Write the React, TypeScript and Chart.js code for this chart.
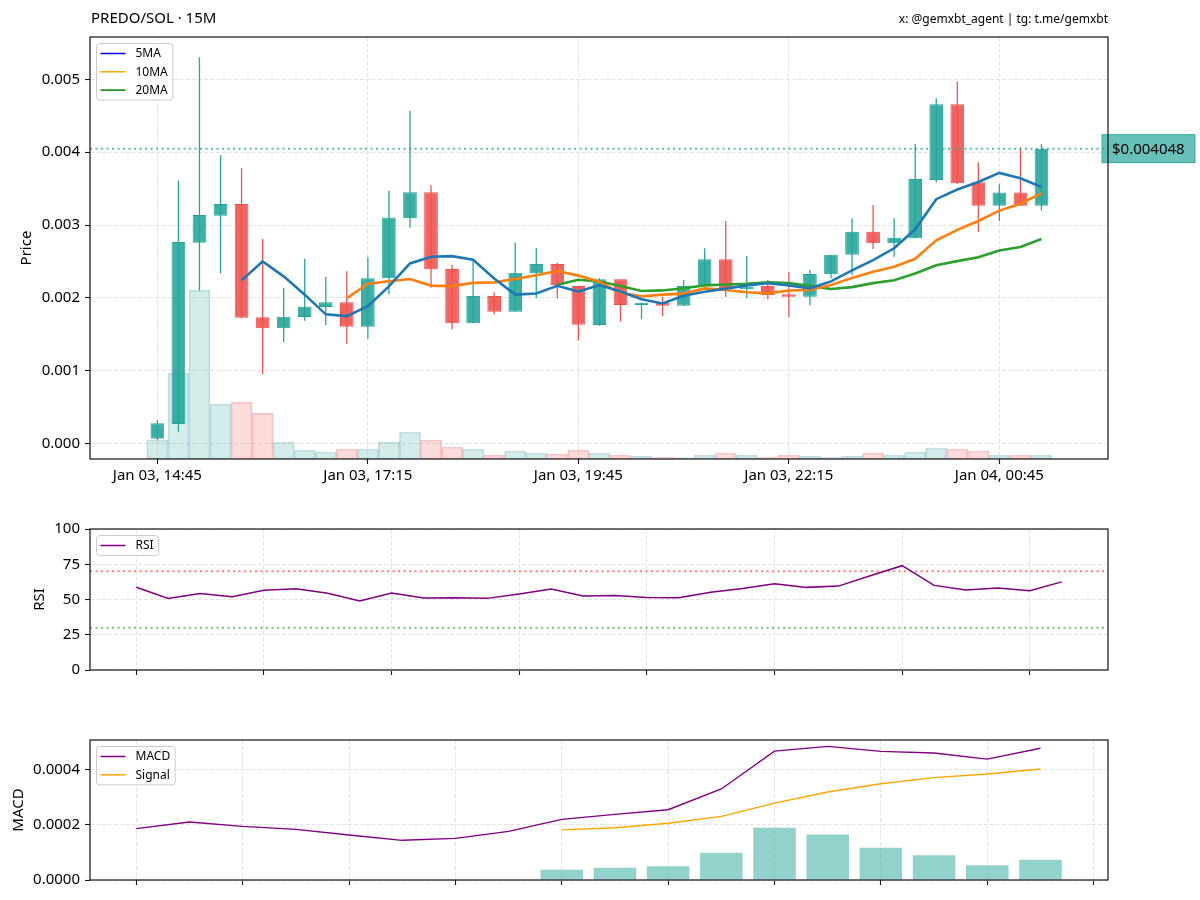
import React, { useEffect, useRef } from 'react';
import { Chart, registerables } from 'chart.js';

Chart.register(...registerables);

const FONT = "'Noto Sans', 'Open Sans', sans-serif";
Chart.defaults.font.family = FONT;
Chart.defaults.color = '#000';

// ---------- text ----------
const PAIR_TITLE = 'PREDO/SOL · 15M';
const CREDIT = 'x: @gemxbt_agent | tg: t.me/gemxbt';
const LAST_PRICE = 0.004048;
const PRICE_UNIT = 0.001; // candle values below are in units of 0.001 SOL

// ---------- price panel (43 candles, 15m) ----------
const candleOpen = [0.069, 0.270, 2.758, 3.129, 3.289, 1.734, 1.583, 1.738, 1.876, 1.940, 1.606, 2.269, 3.092, 3.449, 2.397, 1.651, 2.027, 1.812, 2.338, 2.466, 2.164, 1.629, 2.255, 1.903, 1.935, 1.894, 2.164, 2.530, 2.118, 2.164, 2.049, 2.017, 2.324, 2.594, 2.909, 2.749, 2.818, 3.618, 4.657, 3.586, 3.266, 3.445, 3.266];
const candleClose = [0.279, 2.768, 3.138, 3.289, 1.729, 1.583, 1.743, 1.880, 1.940, 1.606, 2.269, 3.102, 3.449, 2.393, 1.651, 2.027, 1.812, 2.347, 2.466, 2.178, 1.633, 2.255, 1.903, 1.935, 1.894, 2.164, 2.530, 2.118, 2.155, 2.040, 2.017, 2.328, 2.594, 2.909, 2.749, 2.827, 3.632, 4.657, 3.573, 3.266, 3.445, 3.266, 4.048];
const candleHigh = [0.325, 3.609, 5.302, 3.957, 3.779, 2.809, 2.136, 2.539, 2.292, 2.365, 2.557, 3.472, 4.565, 3.545, 2.452, 2.521, 2.077, 2.758, 2.681, 2.484, 2.164, 2.269, 2.255, 1.935, 2.017, 2.246, 2.681, 3.056, 2.575, 2.246, 2.351, 2.383, 2.594, 3.092, 3.275, 3.092, 4.113, 4.739, 4.968, 3.861, 3.559, 4.067, 4.113];
const candleLow = [0.050, 0.165, 2.100, 2.338, 1.720, 0.956, 1.391, 1.688, 1.629, 1.368, 1.441, 2.049, 2.964, 2.141, 1.569, 1.651, 1.775, 1.812, 1.995, 1.995, 1.414, 1.615, 1.674, 1.706, 1.752, 1.889, 2.164, 2.017, 1.995, 1.981, 1.734, 1.898, 2.269, 2.310, 2.672, 2.566, 2.818, 3.582, 3.564, 2.909, 3.056, 3.266, 3.198];
const volume = [1900, 8600, 16900, 5500, 5700, 4600, 1700, 900, 700, 1000, 1000, 1700, 2700, 1900, 1200, 1000, 400, 800, 600, 500, 900, 600, 400, 300, 200, 150, 400, 600, 400, 200, 400, 300, 200, 300, 600, 400, 700, 1100, 1000, 800, 400, 400, 400];
const VOLUME_AXIS_MAX = 42250;

const ma5 = [null, null, null, null, 2.241, 2.501, 2.296, 2.045, 1.775, 1.750, 1.888, 2.159, 2.473, 2.564, 2.573, 2.524, 2.266, 2.046, 2.061, 2.166, 2.087, 2.176, 2.087, 1.981, 1.924, 2.030, 2.085, 2.128, 2.172, 2.201, 2.172, 2.132, 2.227, 2.378, 2.519, 2.681, 2.942, 3.355, 3.488, 3.591, 3.715, 3.641, 3.521];
const ma10 = [null, null, null, null, null, null, null, null, null, 1.996, 2.195, 2.228, 2.259, 2.169, 2.162, 2.206, 2.213, 2.260, 2.312, 2.369, 2.306, 2.221, 2.067, 2.021, 2.045, 2.059, 2.131, 2.108, 2.077, 2.063, 2.101, 2.108, 2.178, 2.275, 2.360, 2.427, 2.537, 2.791, 2.933, 3.055, 3.198, 3.292, 3.438];
const ma20 = [null, null, null, null, null, null, null, null, null, null, null, null, null, null, null, null, null, null, null, 2.182, 2.250, 2.225, 2.163, 2.095, 2.103, 2.132, 2.172, 2.184, 2.194, 2.216, 2.203, 2.165, 2.122, 2.148, 2.203, 2.243, 2.334, 2.449, 2.505, 2.559, 2.650, 2.700, 2.808];

const priceTicks = [0, 0.001, 0.002, 0.003, 0.004, 0.005];
const xTickIndex = [0, 10, 20, 30, 40];
const xTickLabels = ['Jan 03, 14:45', 'Jan 03, 17:15', 'Jan 03, 19:45', 'Jan 03, 22:15', 'Jan 04, 00:45'];

// ---------- RSI panel ----------
const rsiValues = [58.7, 50.8, 54.2, 52.0, 56.5, 57.7, 54.4, 48.9, 54.6, 51.0, 51.3, 50.8, 53.9, 57.4, 52.5, 52.9, 51.4, 51.2, 55.2, 57.8, 61.2, 58.6, 59.5, 66.9, 74.0, 60.0, 56.7, 58.1, 56.2, 62.5];
const rsiTicks = [0, 25, 50, 75, 100];
const rsiTickIndex = [0, 4, 8, 12, 16, 20, 24, 28];
const rsiOverbought = 70;
const rsiOversold = 30;

// ---------- MACD panel ----------
const macdLine = [0.0001855, 0.0002096, 0.000194, 0.000183, 0.0001627, 0.0001434, 0.0001506, 0.0001759, 0.0002193, 0.000237, 0.000254, 0.000329, 0.000466, 0.000483, 0.000465, 0.000459, 0.000437, 0.000476];
const signalLine = [null, null, null, null, null, null, null, null, 0.000181, 0.000189, 0.000205, 0.00023, 0.000278, 0.000318, 0.000348, 0.00037, 0.000383, 0.000401];
const macdHist = [null, null, null, null, null, null, null, null, 0.0000373, 0.0000446, 0.0000494, 0.0000988, 0.000189, 0.000164, 0.000117, 0.0000892, 0.000053, 0.0000735];
const macdTicks = [0, 0.0002, 0.0004];
const macdTickIndex = [0, 2, 4, 6, 8, 10, 12, 14, 16, 18];

// ---------- styling ----------
const UP_FILL = 'rgba(38,166,154,0.9)';
const UP_EDGE = '#26a69a';
const DOWN_FILL = 'rgba(239,83,80,0.9)';
const DOWN_EDGE = '#ef5350';
const GRID = '#e3e3e3';

const fixedTicks = (vals: number[]) => (scale: any) => {
  scale.ticks = vals.map((v) => ({ value: v }));
};

const gridOpts = { color: GRID, lineWidth: 1, tickLength: 5, tickColor: '#1a1a1a', tickWidth: 1.1, drawTicks: true, offset: false };
const borderOpts = { display: false, dash: [4, 2] };

function drawFrame(chart: any) {
  const { ctx, chartArea: a } = chart;
  ctx.save();
  ctx.strokeStyle = '#111';
  ctx.lineWidth = 1.2;
  ctx.strokeRect(a.left, a.top, a.right - a.left, a.bottom - a.top);
  ctx.restore();
}

function drawLegend(chart: any, items: { label: string; color: string }[]) {
  const { ctx, chartArea: a } = chart;
  const fs = 12;
  ctx.save();
  ctx.font = `${fs}px ${FONT}`;
  const textW = Math.max(...items.map((it) => ctx.measureText(it.label).width));
  const x = a.left + 6.5;
  const y = a.top + 6.5;
  const padX = 4, handle = 25, gap = 10, row = 18.3, padY = 10;
  const w = padX + handle + gap + textW + padX + 1;
  const h = padY * 2 + (items.length - 1) * row;
  ctx.beginPath();
  if (ctx.roundRect) ctx.roundRect(x, y, w, h, 3);
  else ctx.rect(x, y, w, h);
  ctx.fillStyle = 'rgba(255,255,255,0.8)';
  ctx.fill();
  ctx.strokeStyle = '#cccccc';
  ctx.lineWidth = 1;
  ctx.stroke();
  items.forEach((it, i) => {
    const cy = y + padY + i * row;
    ctx.beginPath();
    ctx.moveTo(x + padX, cy);
    ctx.lineTo(x + padX + handle, cy);
    ctx.strokeStyle = it.color;
    ctx.lineWidth = 1.5;
    ctx.stroke();
    ctx.fillStyle = '#000';
    ctx.textAlign = 'left';
    ctx.textBaseline = 'middle';
    ctx.fillText(it.label, x + padX + handle + gap, cy + 0.5);
  });
  ctx.restore();
}

function dottedH(chart: any, value: number, color: string, width: number) {
  const { ctx, chartArea: a, scales } = chart;
  const y = scales.y.getPixelForValue(value);
  ctx.save();
  ctx.beginPath();
  ctx.rect(a.left, a.top, a.right - a.left, a.bottom - a.top);
  ctx.clip();
  ctx.setLineDash([2.1, 3.4]);
  ctx.lineWidth = width;
  ctx.strokeStyle = color;
  ctx.beginPath();
  ctx.moveTo(a.left, y);
  ctx.lineTo(a.right, y);
  ctx.stroke();
  ctx.restore();
}

function makePriceChart(canvas: HTMLCanvasElement) {
  const isUp = candleClose.map((c, i) => c >= candleOpen[i]);
  const maLine = (label: string, vals: (number | null)[], color: string) => ({
    type: 'line' as const,
    label,
    data: vals.map((v, i) => ({ x: i, y: v === null ? null : v * PRICE_UNIT })),
    borderColor: color,
    borderWidth: 2.6,
    pointRadius: 0,
    tension: 0,
    fill: false,
    spanGaps: false,
    order: 0,
    yAxisID: 'y',
  });
  const plugin = {
    id: 'priceDecor',
    afterDatasetsDraw(chart: any) {
      dottedH(chart, LAST_PRICE, 'rgba(38,166,154,0.75)', 2);
    },
    afterDraw(chart: any) {
      const { ctx, chartArea: a, scales } = chart;
      drawLegend(chart, [
        { label: '5MA', color: 'blue' },
        { label: '10MA', color: 'orange' },
        { label: '20MA', color: 'green' },
      ]);
      // last price tag
      const y = scales.y.getPixelForValue(LAST_PRICE);
      ctx.save();
      ctx.fillStyle = 'rgba(38,166,154,0.7)';
      ctx.fillRect(a.right - 6, y - 14, 93, 28);
      ctx.strokeStyle = 'rgba(38,166,154,0.9)';
      ctx.lineWidth = 1;
      ctx.strokeRect(a.right - 6, y - 14, 93, 28);
      ctx.fillStyle = '#000';
      ctx.font = `15px ${FONT}`;
      ctx.textAlign = 'left';
      ctx.textBaseline = 'middle';
      ctx.fillText('$' + LAST_PRICE.toFixed(6), a.right + 4, y + 1);
      ctx.restore();
      drawFrame(chart);
      // titles
      ctx.save();
      ctx.fillStyle = '#000';
      ctx.textBaseline = 'alphabetic';
      ctx.font = `15px ${FONT}`;
      ctx.textAlign = 'left';
      ctx.fillText(PAIR_TITLE, a.left + 1, 23);
      ctx.font = `12px ${FONT}`;
      ctx.textAlign = 'right';
      ctx.fillText(CREDIT, a.right, 23);
      ctx.restore();
    },
  };
  return new Chart(canvas, {
    type: 'bar',
    data: {
      datasets: [
        maLine('5MA', ma5, '#1f77b4'),
        maLine('10MA', ma10, '#ff7f0e'),
        maLine('20MA', ma20, '#2ca02c'),
        {
          type: 'bar',
          label: 'body',
          data: candleOpen.map((o, i) => ({ x: i, y: [o * PRICE_UNIT, candleClose[i] * PRICE_UNIT] })),
          backgroundColor: isUp.map((u) => (u ? UP_FILL : DOWN_FILL)),
          borderColor: isUp.map((u) => (u ? UP_EDGE : DOWN_EDGE)),
          borderWidth: 1,
          borderSkipped: false,
          grouped: false,
          barPercentage: 0.65,
          categoryPercentage: 1,
          order: 1,
          yAxisID: 'y',
        },
        {
          type: 'bar',
          label: 'wick',
          data: candleHigh.map((h, i) => ({ x: i, y: [candleLow[i] * PRICE_UNIT, h * PRICE_UNIT] })),
          backgroundColor: isUp.map((u) => (u ? UP_EDGE : DOWN_EDGE)),
          barThickness: 1.3,
          inflateAmount: 0,
          grouped: false,
          order: 2,
          yAxisID: 'y',
        },
        {
          type: 'bar',
          label: 'volume',
          data: volume.map((v, i) => ({ x: i, y: v })),
          backgroundColor: isUp.map((u) => (u ? 'rgba(38,166,154,0.2)' : 'rgba(239,83,80,0.2)')),
          borderColor: isUp.map((u) => (u ? 'rgba(60,140,180,0.28)' : 'rgba(239,83,80,0.3)')),
          borderWidth: 1,
          borderSkipped: false,
          grouped: false,
          barPercentage: 1,
          categoryPercentage: 1,
          order: 3,
          yAxisID: 'yVol',
        },
      ] as any,
    },
    options: {
      animation: false,
      responsive: false,
      maintainAspectRatio: false,
      events: [],
      layout: { padding: { left: 0, right: 92, top: 37, bottom: 0 }, autoPadding: false },
      plugins: { legend: { display: false }, tooltip: { enabled: false } },
      scales: {
        x: {
          type: 'linear',
          min: -3.2,
          max: 45.16,
          offset: false,
          afterBuildTicks: fixedTicks(xTickIndex),
          afterFit: (s: any) => { s.height = 41; },
          ticks: {
            autoSkip: false,
            maxRotation: 0,
            padding: 3,
            color: '#000',
            font: { size: 15 },
            callback: (_v: any, i: number) => xTickLabels[i],
          },
          grid: gridOpts,
          border: borderOpts,
        },
        y: {
          type: 'linear',
          position: 'left',
          min: -0.00021,
          max: 0.00558,
          afterBuildTicks: fixedTicks(priceTicks),
          afterFit: (s: any) => { s.width = 90; },
          ticks: { padding: 5, color: '#000', font: { size: 15 }, callback: (v: any) => Number(v).toFixed(3) },
          grid: gridOpts,
          border: borderOpts,
          title: { display: true, text: 'Price', color: '#000', font: { size: 15 }, padding: { top: 18, bottom: 0 } },
        },
        yVol: { type: 'linear', display: false, min: 0, max: VOLUME_AXIS_MAX, position: 'right', grid: { display: false } },
      },
    } as any,
    plugins: [plugin],
  });
}

function makeRsiChart(canvas: HTMLCanvasElement) {
  const plugin = {
    id: 'rsiDecor',
    beforeDatasetsDraw(chart: any) {
      dottedH(chart, rsiOverbought, 'rgba(255,0,0,0.5)', 2);
      dottedH(chart, rsiOversold, 'rgba(0,128,0,0.5)', 2);
    },
    afterDraw(chart: any) {
      drawLegend(chart, [{ label: 'RSI', color: 'purple' }]);
      drawFrame(chart);
    },
  };
  return new Chart(canvas, {
    type: 'line',
    data: {
      datasets: [
        {
          label: 'RSI',
          data: rsiValues.map((v, i) => ({ x: i, y: v })),
          borderColor: 'purple',
          borderWidth: 1.5,
          pointRadius: 0,
          tension: 0,
          fill: false,
        },
      ],
    },
    options: {
      animation: false,
      responsive: false,
      maintainAspectRatio: false,
      events: [],
      layout: { padding: { left: 0, right: 92, top: 29, bottom: 0 }, autoPadding: false },
      plugins: { legend: { display: false }, tooltip: { enabled: false } },
      scales: {
        x: {
          type: 'linear',
          min: -1.45,
          max: 30.45,
          afterBuildTicks: fixedTicks(rsiTickIndex),
          afterFit: (s: any) => { s.height = 30; },
          ticks: { display: false, autoSkip: false },
          grid: gridOpts,
          border: borderOpts,
        },
        y: {
          type: 'linear',
          min: 0,
          max: 100,
          afterBuildTicks: fixedTicks(rsiTicks),
          afterFit: (s: any) => { s.width = 90; },
          ticks: { padding: 5, color: '#000', font: { size: 15 }, callback: (v: any) => String(v) },
          grid: gridOpts,
          border: borderOpts,
          title: { display: true, text: 'RSI', color: '#000', font: { size: 15 }, padding: { top: 31, bottom: 0 } },
        },
      },
    } as any,
    plugins: [plugin],
  });
}

function makeMacdChart(canvas: HTMLCanvasElement) {
  const plugin = {
    id: 'macdDecor',
    afterDraw(chart: any) {
      drawLegend(chart, [
        { label: 'MACD', color: 'purple' },
        { label: 'Signal', color: 'orange' },
      ]);
      drawFrame(chart);
    },
  };
  return new Chart(canvas, {
    type: 'bar',
    data: {
      datasets: [
        {
          type: 'line',
          label: 'MACD',
          data: macdLine.map((v, i) => ({ x: i, y: v })),
          borderColor: 'purple',
          borderWidth: 1.4,
          pointRadius: 0,
          tension: 0,
          fill: false,
          order: 0,
        },
        {
          type: 'line',
          label: 'Signal',
          data: signalLine.map((v, i) => ({ x: i, y: v })),
          borderColor: 'orange',
          borderWidth: 1.4,
          pointRadius: 0,
          tension: 0,
          fill: false,
          spanGaps: false,
          order: 0,
        },
        {
          type: 'bar',
          label: 'Histogram',
          data: macdHist.map((v, i) => ({ x: i, y: v })).filter((p) => p.y !== null),
          backgroundColor: 'rgba(38,166,154,0.5)',
          borderWidth: 0,
          grouped: false,
          barPercentage: 0.8,
          categoryPercentage: 1,
          order: 1,
        },
      ] as any,
    },
    options: {
      animation: false,
      responsive: false,
      maintainAspectRatio: false,
      events: [],
      layout: { padding: { left: 0, right: 92, top: 40, bottom: 0 }, autoPadding: false },
      plugins: { legend: { display: false }, tooltip: { enabled: false } },
      scales: {
        x: {
          type: 'linear',
          min: -0.87,
          max: 18.27,
          offset: false,
          afterBuildTicks: fixedTicks(macdTickIndex),
          afterFit: (s: any) => { s.height = 20; },
          ticks: { display: false, autoSkip: false },
          grid: gridOpts,
          border: borderOpts,
        },
        y: {
          type: 'linear',
          min: 0,
          max: 0.000506,
          afterBuildTicks: fixedTicks(macdTicks),
          afterFit: (s: any) => { s.width = 90; },
          ticks: { padding: 5, color: '#000', font: { size: 15 }, callback: (v: any) => Number(v).toFixed(4) },
          grid: gridOpts,
          border: borderOpts,
          title: { display: true, text: 'MACD', color: '#000', font: { size: 15 }, padding: { top: 9.5, bottom: 0 } },
        },
      },
    } as any,
    plugins: [plugin],
  });
}

export default function App() {
  const r1 = useRef<HTMLCanvasElement>(null);
  const r2 = useRef<HTMLCanvasElement>(null);
  const r3 = useRef<HTMLCanvasElement>(null);
  useEffect(() => {
    const charts = [makePriceChart(r1.current!), makeRsiChart(r2.current!), makeMacdChart(r3.current!)];
    return () => charts.forEach((c) => c.destroy());
  }, []);
  return (
    <div style={{ position: 'absolute', left: 0, top: 0, width: 1200, height: 900, background: '#fff' }}>
      <canvas ref={r1} width={1200} height={500} style={{ position: 'absolute', left: 0, top: 0 }} />
      <canvas ref={r2} width={1200} height={200} style={{ position: 'absolute', left: 0, top: 500 }} />
      <canvas ref={r3} width={1200} height={200} style={{ position: 'absolute', left: 0, top: 700 }} />
    </div>
  );
}
